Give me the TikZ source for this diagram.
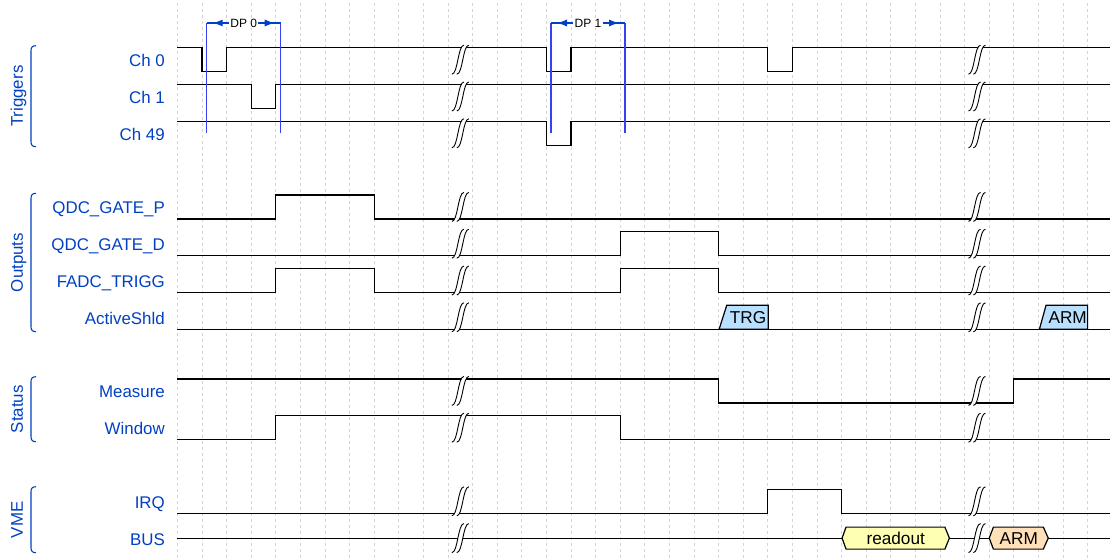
\documentclass[tikz,border=0pt]{standalone}
\usepackage{fontspec}
\setmainfont{Liberation Sans}
\usetikzlibrary{arrows.meta,calc}
\definecolor{wdblue}{HTML}{0041C4}
\definecolor{wdline}{HTML}{3344EE}
\definecolor{wdgrid}{HTML}{D4D4D4}
\definecolor{wdcyan}{HTML}{BAE0FF}
\definecolor{wdyellow}{HTML}{FFFFB4}
\definecolor{wdorange}{HTML}{FFE0B9}
\tikzset{
  brk/.pic={
    \fill[white] (-8.4pt,-14.5pt) .. controls (-2.4pt,-14.5pt) and (-2.4pt,14.5pt) .. (3.6pt,14.5pt)
      -- (8.5pt,14.5pt) .. controls (2.5pt,14.5pt) and (2.5pt,-14.5pt) .. (-3.5pt,-14.5pt) -- cycle;
    \draw[line width=0.9pt] (-8.4pt,-14.5pt) .. controls (-2.4pt,-14.5pt) and (-2.4pt,14.5pt) .. (3.6pt,14.5pt);
    \draw[line width=0.9pt] (-3.5pt,-14.5pt) .. controls (2.5pt,-14.5pt) and (2.5pt,14.5pt) .. (8.5pt,14.5pt);
  }
}
\newcommand{\grpbrace}[2]{\draw[grp] (36,#1) .. controls (32.5,#1) and (31,{#1+1.5}) .. (31,{#1+5})
  -- (31,{#2-5}) .. controls (31,{#2-1.5}) and (32.5,#2) .. (36,#2);}

\begin{document}
\begin{tikzpicture}[x=1pt, y=-1pt,
  sig/.style={line width=1.2pt},
  gridln/.style={draw=wdgrid, line width=0.7pt, dash pattern=on 3pt off 3pt},
  lbl/.style={anchor=base east, text=wdblue, font=\fontsize{16.9}{19}\selectfont, inner sep=0pt},
  grplbl/.style={anchor=base, rotate=90, text=wdblue, font=\fontsize{16.9}{19}\selectfont, inner sep=0pt},
  grp/.style={draw=wdblue, line width=1.1pt},
  dpline/.style={draw=wdline, line width=1.2pt},
  dparr/.style={draw=wdblue, line width=1.1pt, {Latex[length=10pt,width=7pt]}-{Latex[length=10pt,width=7pt]},
                shorten <=6pt, shorten >=6pt},
  dplbl/.style={fill=white, inner sep=1.2pt, font=\fontsize{12}{13}\selectfont},
  dat/.style={draw, line width=1.2pt},
  datlbl/.style={font=\fontsize{17.2}{19}\selectfont, inner sep=0pt, text height=12.2pt, text depth=0pt}]
\useasboundingbox (0,0) rectangle (1110,557);

% lane names
\node[lbl] (ch0) at (165,66.6) {Ch 0};
\node[lbl] (ch1) at (165,103.4) {Ch 1};
\node[lbl] (ch49) at (165,140.2) {Ch 49};
\node[lbl] (qdcp) at (165,213.8) {QDC\_GATE\_P};
\node[lbl] (qdcd) at (165,250.6) {QDC\_GATE\_D};
\node[lbl] (fadc) at (165,287.4) {FADC\_TRIGG};
\node[lbl] (shld) at (165,324.2) {ActiveShld};
\node[lbl] (meas) at (165,397.8) {Measure};
\node[lbl] (wind) at (165,434.6) {Window};
\node[lbl] (irq) at (165,508.2) {IRQ};
\node[lbl] (bus) at (165,545.0) {BUS};

% groups
\grpbrace{45.7}{146.7}
\grpbrace{193.3}{331.7}
\grpbrace{376.7}{441.7}
\grpbrace{486.7}{552.7}
\node[grplbl] (gtrig) at (23,96.2) {Triggers};
\node[grplbl] (gout) at (23,262.5) {Outputs};
\node[grplbl] (gstat) at (23,409.2) {Status};
\node[grplbl] (gvme) at (23,519.7) {VME};

\begin{scope}[shift={(177.4,47.7)}, x=24.6pt]
  \foreach \c in {0,...,37}
    \draw[gridln] (\c,-45) -- (\c,510);

  % Triggers
  \draw[sig] (0,0) -- (1,0) -- (1,24) -- (2,24) -- (2,0) -- (15,0) -- (15,24) -- (16,24) -- (16,0)
    -- (24,0) -- (24,24) -- (25,24) -- (25,0) -- (37.95,0);
  \begin{scope}[shift={(0,36.8)}]
    \draw[sig] (0,0) -- (3,0) -- (3,24) -- (4,24) -- (4,0) -- (37.95,0);
  \end{scope}
  \begin{scope}[shift={(0,73.6)}]
    \draw[sig] (0,0) -- (15,0) -- (15,24) -- (16,24) -- (16,0) -- (37.95,0);
  \end{scope}

  % Outputs
  \begin{scope}[shift={(0,147.2)}]
    \draw[sig] (0,24) -- (4,24) -- (4,0) -- (8,0) -- (8,24) -- (37.95,24);
  \end{scope}
  \begin{scope}[shift={(0,184)}]
    \draw[sig] (0,24) -- (18,24) -- (18,0) -- (22,0) -- (22,24) -- (37.95,24);
  \end{scope}
  \begin{scope}[shift={(0,220.8)}]
    \draw[sig] (0,24) -- (4,24) -- (4,0) -- (8,0) -- (8,24) -- (18,24) -- (18,0) -- (22,0) -- (22,24) -- (37.95,24);
  \end{scope}
  \begin{scope}[shift={(0,257.6)}]
    \draw[sig] (0,24) -- (37.95,24);
    \draw[dat, fill=wdcyan] (22.02,24) -- (22.33,0) -- (24.02,0) -- (24.02,24) -- cycle;
    \draw[dat, fill=wdcyan] (35.04,24) -- (35.31,0) -- (37,0) -- (37,24) -- cycle;
    \node[datlbl] (trg) at (23.2,12) {TRG};
    \node[datlbl] (armshld) at (36.19,12) {ARM};
  \end{scope}

  % Status
  \begin{scope}[shift={(0,331.2)}]
    \draw[sig] (0,0) -- (22,0) -- (22,24) -- (34,24) -- (34,0) -- (37.95,0);
  \end{scope}
  \begin{scope}[shift={(0,368)}]
    \draw[sig] (0,24) -- (4,24) -- (4,0) -- (18,0) -- (18,24) -- (37.95,24);
  \end{scope}

  % VME
  \begin{scope}[shift={(0,441.6)}]
    \draw[sig] (0,24) -- (24,24) -- (24,0) -- (27,0) -- (27,24) -- (37.95,24);
  \end{scope}
  \begin{scope}[shift={(0,478.4)}]
    \draw[sig] (0,12) -- (37.95,12);
    \draw[dat, fill=wdyellow] (27.02,12) -- (27.18,1) -- (31.2,1) -- (31.38,12) -- (31.2,23) -- (27.18,23) -- cycle;
    \draw[dat, fill=wdorange] (33.0,12) -- (33.17,1) -- (35.2,1) -- (35.4,12) -- (35.2,23) -- (33.17,23) -- cycle;
    \node[datlbl] (readout) at (29.2,12) {readout};
    \node[datlbl] (armbus) at (34.2,12) {ARM};
  \end{scope}

  % gaps
  \foreach \k in {0,36.8,73.6,147.2,184,220.8,257.6,331.2,368,441.6,478.4} {
    \pic at (11.5,{\k+12}) {brk};
    \pic at (32.5,{\k+12}) {brk};
  }
\end{scope}

% DP markers
\coordinate (dp0a) at (206.7,23);
\coordinate (dp0b) at (280.7,23);
\coordinate (dp0c) at (206.7,133);
\coordinate (dp0d) at (280.7,133);
\coordinate (dp1a) at (551,23);
\coordinate (dp1b) at (625,23);
\coordinate (dp1c) at (551,133);
\coordinate (dp1d) at (625,133);
\draw[dpline] (dp0a) -- (dp0c);
\draw[dpline] (dp0b) -- (dp0d);
\draw[dpline] (dp1a) -- (dp1c);
\draw[dpline] (dp1b) -- (dp1d);
\draw[draw=wdblue, line width=1.1pt] (dp0a) -- (dp0b);
\draw[draw=wdblue, line width=1.1pt] (dp1a) -- (dp1b);
\draw[dparr] (dp0a) -- (dp0b);
\draw[dparr] (dp1a) -- (dp1b);
\node[dplbl] (dp0) at ($(dp0a)!0.5!(dp0b)$) {DP 0};
\node[dplbl] (dp1) at ($(dp1a)!0.5!(dp1b)$) {DP 1};
\end{tikzpicture}
\end{document}
